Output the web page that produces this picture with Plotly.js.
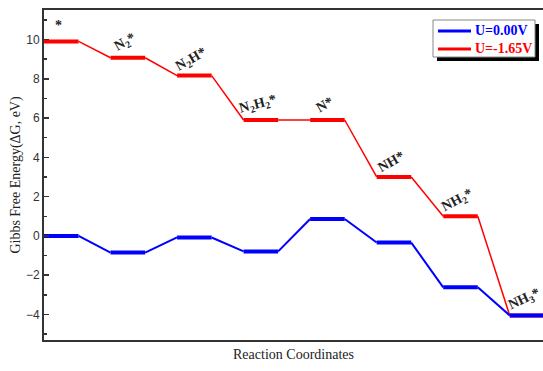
<!DOCTYPE html>
<html>
<head>
<meta charset="utf-8">
<script src="https://cdn.plot.ly/plotly-3.0.1.min.js"></script>
<style>html,body{margin:0;padding:0;background:#fff;}#chart{width:543px;height:371px;}</style>
</head>
<body>
<div id="chart"></div>
<script>
// Data
const steps = ['*', 'N<sub>2</sub>*', 'N<sub>2</sub>H*', 'N<sub>2</sub>H<sub>2</sub>*', 'N*', 'NH*', 'NH<sub>2</sub>*', 'NH<sub>3</sub>*'];
const energyU000 = [0.0, -0.85, -0.08, -0.79, 0.86, -0.34, -2.62, -4.05];
const energyU165 = [9.90, 9.07, 8.16, 5.90, 5.90, 3.00, 1.00, -4.05];
const seriesNames = ['U=0.00V', 'U=-1.65V'];

// Build traces
const W = 0.52; // plateau width (fraction of step)
function plateaus(E) {
  const x = [], y = [];
  E.forEach((e, i) => { x.push(i, i + W, null); y.push(e, e, null); });
  return {x, y};
}
function connectors(E) {
  const x = [], y = [];
  for (let i = 0; i < E.length - 1; i++) { x.push(i + W, i + 1, null); y.push(E[i], E[i + 1], null); }
  return {x, y};
}
const RED = '#ff0000', BLUE = '#0000ff';
const SERIF = 'Liberation Serif, Times New Roman, serif';
const pR = plateaus(energyU165), cR = connectors(energyU165);
const pB = plateaus(energyU000), cB = connectors(energyU000);
const traces = [
  {x: cR.x, y: cR.y, mode: 'lines', line: {color: RED, width: 1.5}, name: seriesNames[1]},
  {x: pR.x, y: pR.y, mode: 'lines', line: {color: RED, width: 4}, name: seriesNames[1]},
  {x: cB.x, y: cB.y, mode: 'lines', line: {color: BLUE, width: 2}, name: seriesNames[0]},
  {x: pB.x, y: pB.y, mode: 'lines', line: {color: BLUE, width: 4}, name: seriesNames[0]}
];

const angles = [0, -30, -30, -15, -30, -30, -28, -25];
const annotations = steps.map((s, i) => ({
  x: i + 0.22, y: energyU165[i] + 0.8, xref: 'x', yref: 'y',
  text: '<b>' + s + '</b>', showarrow: false, textangle: angles[i],
  font: {family: SERIF, size: 14, color: '#222'}
}));

// Legend drawn manually (pixel -> paper helpers)
const PL = 44, PW = 499, PT = 10, PH = 330;
const px = v => (v - PL) / PW;
const py = v => 1 - (v - PT) / PH;
const legendItems = [{name: seriesNames[0], color: BLUE, y: 31}, {name: seriesNames[1], color: RED, y: 49}];
const shapes = [
  {type: 'rect', xref: 'paper', yref: 'paper', layer: 'above',
   x0: px(437), x1: px(539), y0: py(61), y1: py(24), fillcolor: '#000', line: {width: 0}},
  {type: 'rect', xref: 'paper', yref: 'paper', layer: 'above',
   x0: px(433), x1: px(535), y0: py(57), y1: py(20), fillcolor: '#fff', line: {color: '#888', width: 1}}
];
legendItems.forEach(it => {
  shapes.push({type: 'line', xref: 'paper', yref: 'paper', layer: 'above',
    x0: px(438), x1: px(471), y0: py(it.y), y1: py(it.y), line: {color: it.color, width: 3}});
  annotations.push({xref: 'paper', yref: 'paper', x: px(473), y: py(it.y), xanchor: 'left', yanchor: 'middle',
    text: '<b>' + it.name + '</b>', showarrow: false, font: {family: SERIF, size: 14, color: it.color}});
});

const layout = {
  width: 543, height: 371,
  margin: {l: 44, r: 0, t: 10, b: 31},
  paper_bgcolor: '#ffffff', plot_bgcolor: '#ffffff',
  showlegend: false,
  xaxis: {
    range: [0, 7.5], showgrid: false, zeroline: false,
    showticklabels: false, ticks: '',
    showline: true, linecolor: '#333', linewidth: 2, mirror: true,
    title: {text: 'Reaction Coordinates', standoff: 8,
      font: {family: SERIF, size: 14, color: '#222'}}
  },
  yaxis: {
    range: [-5.3, 11.5], showgrid: false, zeroline: false,
    tick0: 0, dtick: 2, ticks: 'inside', ticklen: 5, tickwidth: 1.5, tickcolor: '#333',
    minor: {dtick: 1, ticks: 'inside', ticklen: 3, tickwidth: 1.5, tickcolor: '#333'},
    showline: true, linecolor: '#333', linewidth: 2,
    tickfont: {family: 'Liberation Sans, Arial, sans-serif', size: 12, color: '#333'},
    title: {text: 'Gibbs Free Energy(ΔG, eV)', standoff: 2,
      font: {family: SERIF, size: 14, color: '#222'}}
  },
  shapes: shapes,
  annotations: annotations
};

Plotly.newPlot('chart', traces, layout, {staticPlot: true});
</script>
</body>
</html>
